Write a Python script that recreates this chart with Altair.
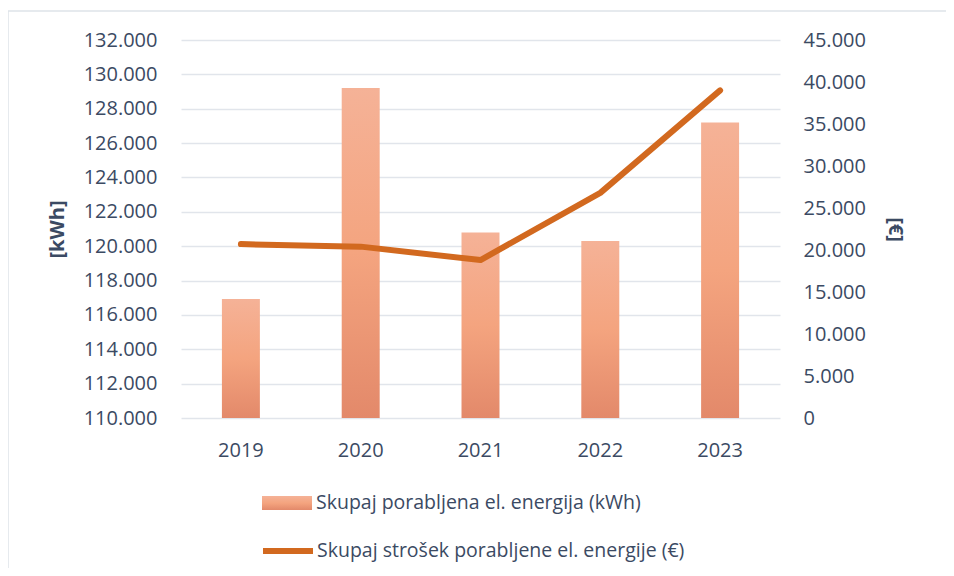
import altair as alt
import pandas as pd

years = ["2019", "2020", "2021", "2022", "2023"]
energy_kwh = [116930, 129200, 120800, 120300, 127200]
cost_eur = [20700, 20400, 18800, 26800, 39000]
kwh_ticks = list(range(110000, 132001, 2000))
eur_ticks = list(range(0, 45001, 5000))
bar_label = "Skupaj porabljena el. energija (kWh)"
line_label = "Skupaj strošek porabljene el. energije (€)"

df = pd.DataFrame({"year": years, "kwh": energy_kwh, "eur": cost_eur,
                   "s1": bar_label, "s2": line_label})

TXT = "#3B4A63"
FONT = "Open Sans"
GRID = "#E1E5EB"
fmt = "replace(format(datum.value, ','), ',', '.')"

grad = alt.Gradient(
    gradient="linear", x1=0, x2=0, y1=0, y2=1,
    stops=[alt.GradientStop(offset=0, color="#F5B297"),
           alt.GradientStop(offset=0.5, color="#F4A47F"),
           alt.GradientStop(offset=1, color="#E3896A")],
)

xenc = alt.X("year:N", scale=alt.Scale(paddingInner=0.683, paddingOuter=0.3415),
             axis=alt.Axis(title=None, labelAngle=0, domain=False, ticks=False,
                           labelPadding=22, labelFontSize=20, labelColor=TXT,
                           labelFont=FONT, grid=False))

bars = alt.Chart(df).mark_bar(fill=grad, clip=True).encode(
    x=xenc,
    y=alt.Y("kwh:Q", scale=alt.Scale(domain=[110000, 132000], zero=False, nice=False),
            axis=alt.Axis(title="[kWh]", values=kwh_ticks, labelExpr=fmt,
                          domain=False, ticks=False, labelPadding=24,
                          labelFontSize=20, labelColor=TXT, labelFont=FONT,
                          titleFontSize=20, titleFont=FONT, titleColor=TXT,
                          titleFontWeight="bold", titlePadding=16,
                          gridColor=GRID, gridWidth=1.5)),
    y2=alt.datum(110000),
    opacity=alt.Opacity("s1:N", scale=alt.Scale(range=[1]),
                        legend=alt.Legend(title=None, orient="none", legendX=81, legendY=438,
                                          padding=0,
                                          symbolType="M-1,-0.28L1,-0.28L1,0.28L-1,0.28Z",
                                          symbolSize=2500, symbolStrokeWidth=0,
                                          symbolFillColor="#F3A583",
                                          labelOffset=4, labelFontSize=19.5, labelLimit=0,
                                          labelFont=FONT, labelColor=TXT)),
)

line = alt.Chart(df).mark_line(strokeWidth=6, strokeCap="round", strokeJoin="round").encode(
    x=alt.X("year:N"),
    y=alt.Y("eur:Q", scale=alt.Scale(domain=[0, 45000], nice=False),
            axis=alt.Axis(title="[€]", values=eur_ticks, labelExpr=fmt, orient="right",
                          domain=False, ticks=False, labelPadding=23,
                          labelFontSize=20, labelColor=TXT, labelFont=FONT,
                          titleFontSize=20, titleFont=FONT, titleColor=TXT,
                          titleFontWeight="bold", titlePadding=19, titleAngle=90,
                          grid=False)),
    stroke=alt.Stroke("s2:N", scale=alt.Scale(range=["#D2691F"]),
                      legend=alt.Legend(title=None, orient="none", legendX=79, legendY=483,
                                        padding=0, symbolType="stroke", symbolSize=2500,
                                        symbolStrokeWidth=6, labelOffset=1,
                                        labelFontSize=19.5, labelFont=FONT, labelLimit=0,
                                        labelColor=TXT)),
)

frame_data = alt.Data(values=[{"k": 1}])
frame_top = alt.Chart(frame_data).mark_rule(color="#DEE3E9", strokeWidth=1.5).encode(
    x=alt.value(-173), x2=alt.value(800), y=alt.value(-29))
frame_left = alt.Chart(frame_data).mark_rule(color="#DEE3E9", strokeWidth=1.5).encode(
    x=alt.value(-173), y=alt.value(-29), y2=alt.value(560))

chart = alt.layer(bars, line, frame_top, frame_left).resolve_scale(
    y="independent", opacity="independent", stroke="independent"
).properties(
    width=599, height=378,
    autosize=alt.AutoSizeParams(type="none"),
    padding={"left": 173, "top": 32, "right": 166, "bottom": 150},
).configure_view(stroke=None).configure_axis(labelFont=FONT)

chart.save("out.html", embed_options={"renderer": "svg", "actions": False})
